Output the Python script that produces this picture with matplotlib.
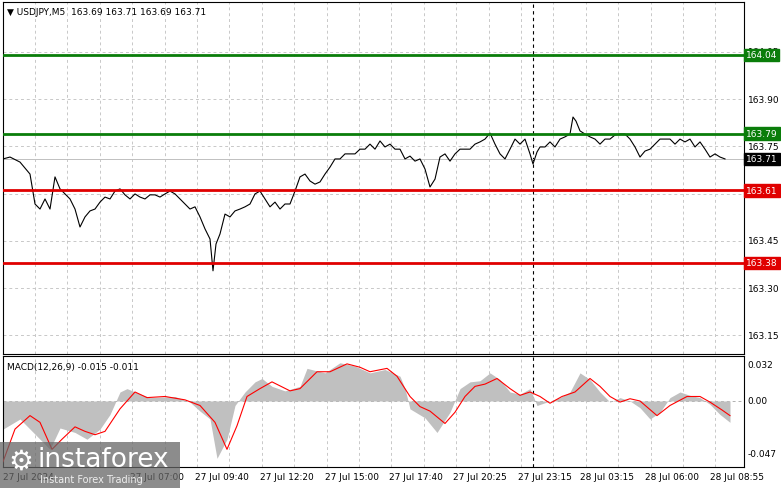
import matplotlib.pyplot as plt
import matplotlib.patches as mpatches

# price line: bar position (1 bar ~ 1 px) and close price
bars = [3, 10, 20, 30, 35, 40, 45, 50, 55, 60, 65, 70, 75, 80, 85, 90, 95, 100, 105, 110,
        115, 120, 125, 130, 135, 140, 145, 150, 155, 160, 165, 170, 175, 180, 185, 190, 195, 200, 205, 210,
        213, 216, 220, 225, 230, 235, 240, 245, 250, 255, 260, 265, 270, 275, 280, 285, 290, 295, 300, 305,
        310, 315, 320, 325, 330, 335, 340, 345, 350, 355, 360, 365, 370, 375, 380, 385, 390, 395, 400, 405,
        410, 415, 420, 425, 430, 435, 440, 445, 450, 455, 460, 465, 470, 475, 480, 485, 490, 495, 500, 505,
        510, 515, 520, 525, 530, 533, 537, 540, 545, 550, 555, 560, 565, 570, 573, 576, 580, 585, 590, 595,
        600, 605, 610, 615, 620, 625, 630, 635, 640, 645, 650, 655, 660, 665, 670, 675, 680, 685, 690, 695,
        700, 705, 710, 715, 720, 725]
prices = [163.710, 163.716, 163.700, 163.662, 163.567, 163.551, 163.583, 163.551, 163.653, 163.615,
          163.599, 163.583, 163.551, 163.494, 163.526, 163.545, 163.551, 163.573, 163.589, 163.583,
          163.608, 163.615, 163.596, 163.583, 163.599, 163.589, 163.583, 163.596, 163.596, 163.589,
          163.599, 163.608, 163.599, 163.583, 163.567, 163.551, 163.558, 163.526, 163.488, 163.456,
          163.355, 163.440, 163.472, 163.535, 163.526, 163.545, 163.551, 163.558, 163.567, 163.599,
          163.608, 163.583, 163.558, 163.573, 163.551, 163.567, 163.567, 163.608, 163.653, 163.662,
          163.640, 163.630, 163.637, 163.662, 163.684, 163.710, 163.710, 163.726, 163.726, 163.726,
          163.741, 163.741, 163.757, 163.741, 163.767, 163.748, 163.757, 163.741, 163.741, 163.710,
          163.719, 163.703, 163.710, 163.678, 163.621, 163.646, 163.716, 163.726, 163.703, 163.726,
          163.741, 163.741, 163.741, 163.757, 163.764, 163.773, 163.792, 163.757, 163.726, 163.710,
          163.741, 163.773, 163.757, 163.773, 163.726, 163.694, 163.732, 163.748, 163.748, 163.764,
          163.748, 163.773, 163.780, 163.789, 163.843, 163.830, 163.799, 163.789, 163.780, 163.773,
          163.757, 163.773, 163.773, 163.786, 163.789, 163.789, 163.773, 163.748, 163.716, 163.735,
          163.741, 163.757, 163.773, 163.773, 163.773, 163.757, 163.773, 163.764, 163.773, 163.748,
          163.764, 163.741, 163.716, 163.726, 163.716, 163.710]

# MACD main (histogram) and signal
hist_bars = [3, 20, 40, 50, 60, 75, 87, 100, 110, 120, 127, 135, 150, 175, 190, 200, 210, 217, 227, 235,
             245, 255, 262, 272, 285, 300, 307, 325, 340, 355, 370, 385, 400, 405, 410, 425, 437, 450, 460, 470,
             480, 490, 500, 510, 520, 530, 537, 550, 560, 570, 580, 590, 600, 610, 620, 630, 640, 650, 660, 670,
             680, 690, 700, 710, 720, 730]
hist_vals = [-0.025, -0.016, -0.034, -0.043, -0.024, -0.028, -0.034, -0.025, -0.012, 0.008, 0.011, 0.008,
             0.003, 0.004, -0.001, -0.009, -0.016, -0.051, -0.034, -0.004, 0.008, 0.017, 0.020, 0.013, 0.009,
             0.013, 0.029, 0.025, 0.034, 0.031, 0.025, 0.028, 0.022, 0.011, -0.007, -0.015, -0.028, -0.010,
             0.011, 0.017, 0.018, 0.025, 0.019, 0.008, 0.006, 0.011, -0.004, 0.000, 0.003, 0.008, 0.025, 0.019,
             0.008, -0.001, 0.003, 0.000, -0.006, -0.016, -0.010, 0.003, 0.008, 0.005, 0.003, -0.003, -0.012,
             -0.019]
sig_bars = [3, 15, 30, 40, 52, 62, 75, 85, 95, 105, 120, 135, 147, 165, 185, 200, 215, 227, 237, 247,
            260, 272, 290, 300, 317, 330, 347, 360, 370, 387, 397, 410, 420, 430, 445, 455, 465, 475, 485, 497,
            510, 520, 530, 540, 550, 562, 575, 590, 600, 610, 620, 630, 640, 657, 670, 687, 700, 710, 722, 730]
sig_vals = [-0.054, -0.025, -0.013, -0.019, -0.043, -0.034, -0.023, -0.027, -0.030, -0.027, -0.007, 0.008,
            0.003, 0.004, 0.001, -0.004, -0.019, -0.043, -0.022, 0.004, 0.011, 0.017, 0.009, 0.011, 0.026,
            0.026, 0.033, 0.030, 0.026, 0.029, 0.022, 0.004, -0.005, -0.009, -0.020, -0.010, 0.004, 0.013,
            0.015, 0.020, 0.011, 0.005, 0.008, 0.004, -0.002, 0.004, 0.008, 0.020, 0.013, 0.004, -0.001,
            0.002, 0.000, -0.013, -0.004, 0.004, 0.004, -0.001, -0.008, -0.013]

levels_green = [164.04, 163.79]
levels_red = [163.61, 163.38]
price_ticks = [164.05, 163.90, 163.75, 163.60, 163.45, 163.30, 163.15]
time_pos = [3, 130, 195, 260, 325, 389, 453, 518, 580, 645, 710]
time_labels = ["27 Jul 2024", "27 Jul 07:00", "27 Jul 09:40", "27 Jul 12:20", "27 Jul 15:00",
               "27 Jul 17:40", "27 Jul 20:25", "27 Jul 23:15", "28 Jul 03:15", "28 Jul 06:00",
               "28 Jul 08:55"]
last_price = 163.71

W, H = 781, 489
fig = plt.figure(figsize=(W / 100, H / 100), dpi=100)
plt.rcParams["font.family"] = "DejaVu Sans"
FS = 6.5

ax = fig.add_axes([3 / W, 1 - 355 / H, 741 / W, 352 / H])
ax2 = fig.add_axes([3 / W, 1 - 468 / H, 741 / W, 111 / H])
grid_x = [35 + 32.4 * k for k in range(23)]

for a in (ax, ax2):
    a.set_xlim(3, 744)
    a.set_xticks([])
    a.set_yticks([])
    for s in a.spines.values():
        s.set_color("black")
        s.set_linewidth(0.8)
    for gx in grid_x:
        a.axvline(gx, color="#c8c8c8", lw=0.7, ls=(0, (3, 3)), zorder=0)
    a.axvline(533, color="black", lw=0.8, ls=(0, (3, 3)), zorder=1)

ax.set_ylim(163.091, 164.208)
for p in price_ticks:
    ax.axhline(p, color="#c8c8c8", lw=0.7, ls=(0, (3, 3)), zorder=0)
    ax.text(1.005, p, f"{p:.2f}", transform=ax.get_yaxis_transform(), va="center",
            ha="left", fontsize=FS)
ax.axhline(last_price, color="#c0c0c0", lw=0.7)
ax.plot(bars, prices, color="black", lw=0.8, zorder=3)
for lv in levels_green:
    ax.axhline(lv, color="#0a7d0a", lw=2, zorder=4)
for lv in levels_red:
    ax.axhline(lv, color="#e00000", lw=2, zorder=4)


def tag(y, txt, bg):
    ax.text(1.003, y, txt, transform=ax.get_yaxis_transform(), va="center", ha="left",
            fontsize=FS, color="white", clip_on=False, zorder=6,
            bbox=dict(boxstyle="square,pad=0.2", fc=bg, ec=bg))


for lv in levels_green:
    tag(lv, f"{lv:.2f}", "#0a7d0a")
for lv in levels_red:
    tag(lv, f"{lv:.2f}", "#e00000")
tag(last_price, f"{last_price:.2f}", "black")

ax.text(0.006, 0.985, "\u25bc USDJPY,M5  163.69 163.71 163.69 163.71", transform=ax.transAxes,
        va="top", ha="left", fontsize=FS)

ax2.set_ylim(-0.0587, 0.040)
ax2.axhline(0, color="#b0b0b0", lw=0.7, ls=(0, (3, 3)), zorder=0)
ax2.fill_between(hist_bars, 0, hist_vals, color="#c0c0c0", lw=0, zorder=2)
ax2.plot(sig_bars, sig_vals, color="red", lw=0.8, zorder=3)
for v, t in [(0.032, "0.032"), (0.0, "0.00"), (-0.047, "-0.047")]:
    ax2.text(1.005, v, t, transform=ax2.get_yaxis_transform(), va="center", ha="left", fontsize=FS)
ax2.text(0.006, 0.95, "MACD(12,26,9) -0.015 -0.011", transform=ax2.transAxes, va="top",
         ha="left", fontsize=FS)

for xp, lab in zip(time_pos, time_labels):
    fig.text(xp / W, 1 - 478 / H, lab, fontsize=FS, va="center", ha="left")

# watermark logo
fig.patches.append(mpatches.Rectangle((0, 0), 180 / W, 46 / H, transform=fig.transFigure,
                                      fc="#666666", alpha=0.75, ec="none", zorder=10))
fig.text(8 / W, 1 - 462 / H, "\u2699", fontsize=20, color="white", va="center", zorder=11)
fig.text(38 / W, 1 - 460 / H, "instaforex", fontsize=19, color="white", va="center", zorder=11)
fig.text(40 / W, 1 - 480 / H, "Instant Forex Trading", fontsize=7, color="#eeeeee",
         va="center", zorder=11)

fig.savefig("out.png", dpi=100, facecolor="white")
